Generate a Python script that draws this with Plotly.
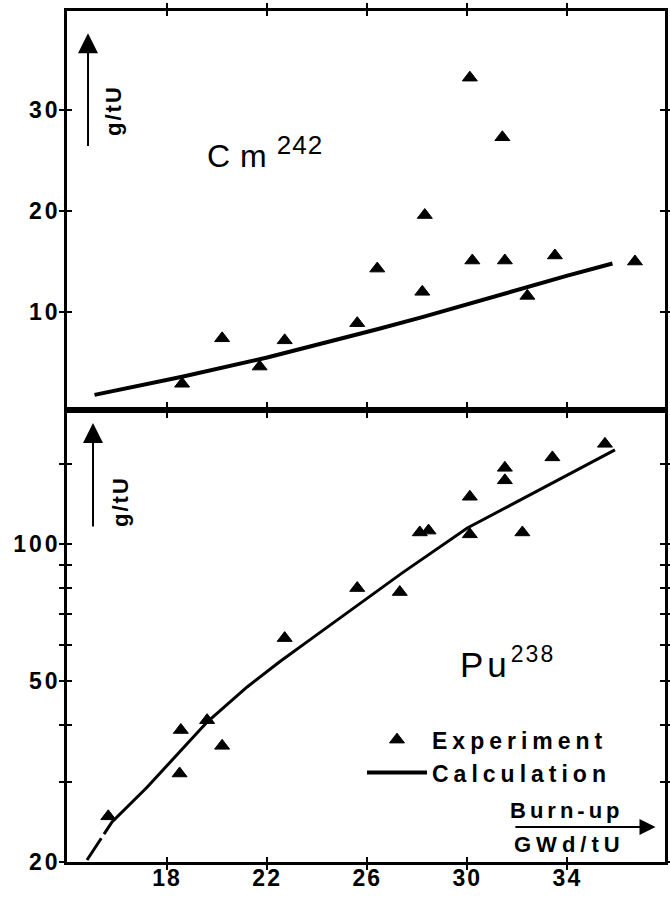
import math
import plotly.graph_objects as go

FONT = "Liberation Sans, Arial, sans-serif"

# ---------------- data ----------------
x_ticks = [18, 22, 26, 30, 34]
x_ticklabels = ["18", "22", "26", "30", "34"]

cm_ticks = [10, 20, 30]
cm_ticklabels = ["10", "20", "30"]

pu_ticks = [20, 30, 40, 50, 60, 70, 80, 90, 100, 150]
pu_ticklabels = ["20", "", "", "50", "", "", "", "", "100", ""]

cm_exp_x = [18.6, 20.2, 21.7, 22.7, 25.6, 26.4, 28.2, 28.3, 30.1, 30.2, 31.4, 31.5, 32.4, 33.5, 36.7]
cm_exp_y = [2.9, 7.4, 4.6, 7.2, 8.9, 14.3, 12.0, 19.6, 33.2, 15.1, 27.3, 15.1, 11.6, 15.6, 15.0]
cm_calc_x = [15.1, 18.6, 22.0, 24.6, 26.4, 28.2, 30.0, 32.4, 34.0, 35.8]
cm_calc_y = [1.8, 3.6, 5.5, 7.1, 8.3, 9.5, 10.8, 12.5, 13.6, 14.8]

pu_exp_x = [15.65, 18.5, 18.55, 19.6, 20.2, 22.7, 25.6, 27.3, 28.1, 28.45, 30.1, 30.1, 31.5, 31.5, 32.2, 33.4, 35.5]
pu_exp_y = [25.2, 31.3, 39.0, 41.0, 36.0, 62.1, 80.0, 78.4, 106, 107, 105, 127, 147, 138, 106, 155, 166]
pu_calc_x = [14.8, 15.8, 17.2, 18.5, 19.6, 21.2, 22.5, 23.8, 24.9, 27.4, 30.0, 32.7, 35.9]
pu_calc_y = [20.2, 24.5, 29.2, 34.9, 40.6, 48.5, 55.1, 62.1, 68.7, 86.4, 108.4, 130, 161]

X_RANGE = [14.0, 37.9]
CM_RANGE = [0.3, 39.8]
PU_RANGE = [math.log10(20), 2.2944]
SPLIT = 0.5311


def ls(t, px):
    return f'<span style="letter-spacing:{px}px">{t}</span>' if t else ""


fig = go.Figure()
tri = dict(symbol="triangle-up", size=13, color="black", line=dict(color="black", width=1))
fig.add_trace(go.Scatter(
    x=cm_exp_x, y=cm_exp_y, xaxis="x2", yaxis="y2", mode="markers",
    marker=tri, name=ls("Experiment", 5), legendrank=1))
fig.add_trace(go.Scatter(
    x=cm_calc_x, y=cm_calc_y, xaxis="x2", yaxis="y2", mode="lines",
    line=dict(color="black", width=4), name=ls("Calculation", 5), legendrank=2))
fig.add_trace(go.Scatter(
    x=pu_calc_x, y=pu_calc_y, xaxis="x", yaxis="y", mode="lines",
    line=dict(color="black", width=3, dash="26px,5px,2000px"), showlegend=False))
fig.add_trace(go.Scatter(
    x=pu_exp_x, y=pu_exp_y, xaxis="x", yaxis="y", mode="markers",
    marker=tri, showlegend=False))
fig.add_trace(go.Scatter(x=[None], y=[None], xaxis="x3", yaxis="y3", showlegend=False, hoverinfo="skip"))
fig.add_trace(go.Scatter(x=[None], y=[None], xaxis="x4", yaxis="y4", showlegend=False, hoverinfo="skip"))

tickfont = dict(family=FONT, size=23, color="black", weight="bold")
base = dict(showline=True, linewidth=2.5, linecolor="black", mirror="ticks",
            ticks="outside", ticklen=5, tickwidth=2, tickcolor="black", automargin=False,
            showgrid=False, zeroline=False, tickmode="array", tickfont=tickfont)
inner = dict(showline=False, mirror="ticks", ticks="inside", ticklen=5, tickwidth=2,
             tickcolor="black", showgrid=False, zeroline=False, tickmode="array",
             showticklabels=False, automargin=False)

fig.update_layout(
    template="none",
    width=670, height=899,
    margin=dict(l=67, r=5, t=11, b=37, autoexpand=False),
    paper_bgcolor="white", plot_bgcolor="white",
    font=dict(family=FONT, color="black"),
    xaxis=dict(base, anchor="y", range=X_RANGE, tickvals=x_ticks,
               ticktext=[ls(t, 2) for t in x_ticklabels], ticklabelstandoff=-11),
    yaxis=dict(base, anchor="x", type="log", range=PU_RANGE, domain=[0, SPLIT],
               tickvals=pu_ticks, ticktext=[ls(t, 3) for t in pu_ticklabels], ticklabelstandoff=-6),
    xaxis2=dict(base, anchor="y2", range=X_RANGE, tickvals=x_ticks, showticklabels=False),
    yaxis2=dict(base, anchor="x2", range=CM_RANGE, domain=[SPLIT, 1],
                tickvals=cm_ticks, ticktext=[ls(t, 3) for t in cm_ticklabels], ticklabelstandoff=-6),
    xaxis3=dict(inner, overlaying="x", anchor="y3", range=X_RANGE, tickvals=x_ticks),
    yaxis3=dict(inner, overlaying="y", anchor="x3", type="log", range=PU_RANGE,
                domain=[0, SPLIT], tickvals=pu_ticks),
    xaxis4=dict(inner, overlaying="x2", anchor="y4", range=X_RANGE, tickvals=x_ticks),
    yaxis4=dict(inner, overlaying="y2", anchor="x4", range=CM_RANGE,
                domain=[SPLIT, 1], tickvals=cm_ticks),
    legend=dict(x=0.4933, y=0.169, xanchor="left", yanchor="top",
                bgcolor="rgba(0,0,0,0)", borderwidth=0, itemwidth=60,
                font=dict(family=FONT, size=23, color="black", weight="bold")),
    showlegend=True,
)

ann = []
ann.append(dict(xref="paper", yref="paper", x=0.2308, y=0.834, xanchor="left", yanchor="middle",
                text=ls("Cm", 10) + '<sup><span style="font-size:26px;letter-spacing:1px">242</span></sup>',
                showarrow=False, font=dict(family=FONT, size=32, color="black")))
ann.append(dict(xref="paper", yref="paper", x=0.6538, y=0.234, xanchor="left", yanchor="middle",
                text=ls("Pu", 4) + '<sup><span style="font-size:23px;letter-spacing:2px">238</span></sup>',
                showarrow=False, font=dict(family=FONT, size=35, color="black")))
ann.append(dict(xref="paper", yref="paper", x=0.0786, y=0.8825, xanchor="center", yanchor="middle",
                textangle=-90, text=ls("g/tU", 2), showarrow=False,
                font=dict(family=FONT, size=22, color="black", weight="bold")))
ann.append(dict(xref="paper", yref="paper", x=0.0886, y=0.4242, xanchor="center", yanchor="middle",
                textangle=-90, text=ls("g/tU", 2), showarrow=False,
                font=dict(family=FONT, size=22, color="black", weight="bold")))
ann.append(dict(xref="x2", yref="y2", axref="x2", ayref="y2", x=14.84, y=37.6, ax=14.84, ay=26.3,
                text="", showarrow=True, arrowhead=2, arrowsize=2.0, arrowwidth=2, arrowcolor="black",
                standoff=0, startstandoff=0))
ann.append(dict(xref="x", yref="y", axref="x", ayref="y", x=15.04, y=2.266, ax=15.04, ay=2.035,
                text="", showarrow=True, arrowhead=2, arrowsize=2.0, arrowwidth=2, arrowcolor="black",
                standoff=0, startstandoff=0))
ann.append(dict(xref="x", yref="y", axref="x", ayref="y", x=37.52, y=1.378, ax=31.86, ay=1.378,
                text="", showarrow=True, arrowhead=2, arrowsize=1.6, arrowwidth=2, arrowcolor="black",
                standoff=0, startstandoff=0))
ann.append(dict(xref="paper", yref="paper", x=0.836, y=0.0611, xanchor="center", yanchor="middle",
                text=ls("Burn-up", 4), showarrow=False,
                font=dict(family=FONT, size=22, color="black", weight="bold")))
ann.append(dict(xref="paper", yref="paper", x=0.841, y=0.020, xanchor="center", yanchor="middle",
                text=ls("GWd/tU", 5), showarrow=False,
                font=dict(family=FONT, size=22, color="black", weight="bold")))
fig.update_layout(annotations=ann)

fig.write_html("out.html")
